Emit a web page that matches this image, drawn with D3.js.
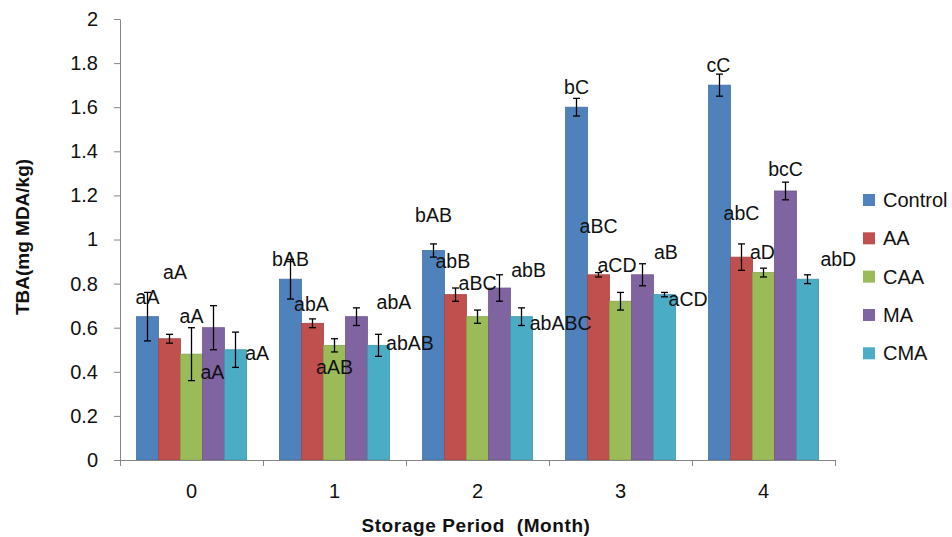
<!DOCTYPE html>
<html>
<head>
<meta charset="utf-8">
<script src="https://cdn.jsdelivr.net/npm/d3@7"></script>
<style>
  html, body { margin: 0; padding: 0; background: #fff; }
  svg { display: block; }
  text { font-family: "Liberation Sans", Arial, sans-serif; }
</style>
</head>
<body>
<svg id="chart" width="952" height="537"></svg>
<script>
// ---- data ----
const categories = ["0", "1", "2", "3", "4"];
const seriesNames = ["Control", "AA", "CAA", "MA", "CMA"];

const controlValues = [0.65, 0.82, 0.95, 1.60, 1.70];
const aaValues      = [0.55, 0.62, 0.75, 0.84, 0.92];
const caaValues     = [0.48, 0.52, 0.65, 0.72, 0.85];
const maValues      = [0.60, 0.65, 0.78, 0.84, 1.22];
const cmaValues     = [0.50, 0.52, 0.65, 0.75, 0.82];

const controlErr = [0.11, 0.09, 0.03, 0.04, 0.05];
const aaErr      = [0.02, 0.02, 0.03, 0.01, 0.06];
const caaErr     = [0.12, 0.03, 0.03, 0.04, 0.02];
const maErr      = [0.10, 0.04, 0.06, 0.05, 0.04];
const cmaErr     = [0.08, 0.05, 0.04, 0.01, 0.02];

const controlLetters = ["aA", "bAB", "bAB", "bC", "cC"];
const aaLetters      = ["aA", "abA", "abB", "aBC", "abC"];
const caaLetters     = ["aA", "aAB", "aBC", "aCD", "aD"];
const maLetters      = ["aA", "abA", "abB", "aB", "bcC"];
const cmaLetters     = ["aA", "abAB", "abABC", "aCD", "abD"];

const yTicks = [0, 0.2, 0.4, 0.6, 0.8, 1, 1.2, 1.4, 1.6, 1.8, 2];

// ---- label placement (annotation layout: baseline value on y axis, shift in bar widths) ----
const controlLabelY = [0.707, 0.88, 1.08, 1.66, 1.761];
const aaLabelY      = [0.82, 0.677, 0.869, 1.028, 1.088];
const caaLabelY     = [0.62, 0.39, 0.771, 0.851, 0.91];
const maLabelY      = [0.367, 0.683, 0.831, 0.91, 1.289];
const cmaLabelY     = [0.453, 0.499, 0.59, 0.70, 0.88];

const controlLabelShift = [0, 0, 0, 0, -0.05];
const aaLabelShift      = [0.25, -0.05, -0.12, 0, 0];
const caaLabelShift     = [0, 0, 0, -0.16, -0.05];
const maLabelShift      = [-0.05, 1.7, 1.32, 1.06, 0];
const cmaLabelShift     = [0.98, 1.43, 1.78, 1.07, 1.4];

const colors = ["#4F81BD", "#C0504D", "#9BBB59", "#8064A2", "#4BACC6"];

const seriesValues = [controlValues, aaValues, caaValues, maValues, cmaValues];
const seriesErr = [controlErr, aaErr, caaErr, maErr, cmaErr];
const seriesLetters = [controlLetters, aaLetters, caaLetters, maLetters, cmaLetters];
const seriesLabelY = [controlLabelY, aaLabelY, caaLabelY, maLabelY, cmaLabelY];
const seriesLabelShift = [controlLabelShift, aaLabelShift, caaLabelShift, maLabelShift, cmaLabelShift];

const records = [];
seriesNames.forEach((s, si) => {
  categories.forEach((c, ci) => {
    records.push({
      series: s, cat: c, si,
      value: seriesValues[si][ci],
      err: seriesErr[si][ci],
      letters: seriesLetters[si][ci],
      labelY: seriesLabelY[si][ci],
      shift: seriesLabelShift[si][ci]
    });
  });
});

// ---- layout ----
const svg = d3.select("#chart");
const axisColor = "#868686";
const plotLeft = 120, plotRight = 835, plotTop = 19, plotBottom = 460;

const x0 = d3.scaleBand().domain(categories).range([plotLeft, plotRight]).paddingInner(0).paddingOuter(0);
const x1 = d3.scaleBand().domain(seriesNames).range([0, x0.bandwidth()]).paddingInner(0).paddingOuter(0.75);
const y = d3.scaleLinear().domain([0, 2]).range([plotBottom, plotTop]);
const color = d3.scaleOrdinal().domain(seriesNames).range(colors);

// bars
svg.append("g").selectAll("rect").data(records).join("rect")
  .attr("x", d => x0(d.cat) + x1(d.series))
  .attr("y", d => y(d.value))
  .attr("width", x1.bandwidth())
  .attr("height", d => y(0) - y(d.value))
  .attr("fill", d => color(d.series))
  .attr("stroke", d => d3.color(color(d.series)).darker(0.4))
  .attr("stroke-width", 0.8);

// error bars
const eb = svg.append("g").attr("stroke", "#000").attr("stroke-width", 1.3);
const cx = d => x0(d.cat) + x1(d.series) + x1.bandwidth() / 2;
eb.selectAll("line.v").data(records).join("line").attr("class", "v")
  .attr("x1", cx).attr("x2", cx)
  .attr("y1", d => y(d.value + d.err)).attr("y2", d => y(d.value - d.err));
eb.selectAll("line.t").data(records).join("line").attr("class", "t")
  .attr("x1", d => cx(d) - 3.5).attr("x2", d => cx(d) + 3.5)
  .attr("y1", d => y(d.value + d.err)).attr("y2", d => y(d.value + d.err));
eb.selectAll("line.b").data(records).join("line").attr("class", "b")
  .attr("x1", d => cx(d) - 3.5).attr("x2", d => cx(d) + 3.5)
  .attr("y1", d => y(d.value - d.err)).attr("y2", d => y(d.value - d.err));

// significance letters
svg.append("g").selectAll("text").data(records).join("text")
  .attr("x", d => cx(d) + d.shift * x1.bandwidth())
  .attr("y", d => y(d.labelY))
  .attr("text-anchor", "middle")
  .attr("font-size", 19.5)
  .attr("fill", "#111")
  .text(d => d.letters);

// y axis
const yAxis = svg.append("g").attr("transform", `translate(${plotLeft},0)`)
  .call(d3.axisLeft(y).tickValues(yTicks).tickSize(6).tickSizeOuter(0).tickPadding(16)
    .tickFormat(d => String(+d.toFixed(1))));
yAxis.selectAll("path, line").attr("stroke", axisColor);
yAxis.selectAll("text").attr("font-size", 20).attr("fill", "#111")
  .attr("font-family", "'Liberation Sans', Arial, sans-serif");

// x axis: boundary ticks
const xb = d3.scaleLinear().domain([0, categories.length]).range([plotLeft, plotRight]);
const xAxisTicks = svg.append("g").attr("transform", `translate(0,${plotBottom})`)
  .call(d3.axisBottom(xb).tickValues(d3.range(0, categories.length + 1)).tickSize(6).tickSizeOuter(0).tickFormat(""));
xAxisTicks.selectAll("path, line").attr("stroke", axisColor);

// x axis: category labels
const xAxisLabels = svg.append("g").attr("transform", `translate(0,${plotBottom})`)
  .call(d3.axisBottom(x0).tickSize(0).tickPadding(24));
xAxisLabels.select(".domain").remove();
xAxisLabels.selectAll("text").attr("font-size", 20).attr("fill", "#111")
  .attr("font-family", "'Liberation Sans', Arial, sans-serif");

// axis titles
svg.append("text")
  .attr("x", 476).attr("y", 532)
  .attr("text-anchor", "middle")
  .attr("font-size", 19).attr("font-weight", "bold")
  .attr("letter-spacing", 0.6)
  .attr("fill", "#111")
  .style("white-space", "pre")
  .text("Storage Period  (Month)");

svg.append("text")
  .attr("transform", "translate(29,237) rotate(-90)")
  .attr("text-anchor", "middle")
  .attr("font-size", 19).attr("font-weight", "bold")
  .attr("fill", "#111")
  .text("TBA(mg MDA/kg)");

// legend
const legendY = d3.scalePoint().domain(seriesNames).range([200, 353.3]);
const lg = svg.append("g").selectAll("g").data(seriesNames).join("g")
  .attr("transform", d => `translate(863,${legendY(d)})`);
lg.append("rect").attr("x", 0).attr("y", -6).attr("width", 12).attr("height", 12)
  .attr("fill", d => color(d));
lg.append("text").attr("x", 20).attr("y", 7)
  .attr("font-size", 20).attr("fill", "#111")
  .text(d => d);
</script>
</body>
</html>
